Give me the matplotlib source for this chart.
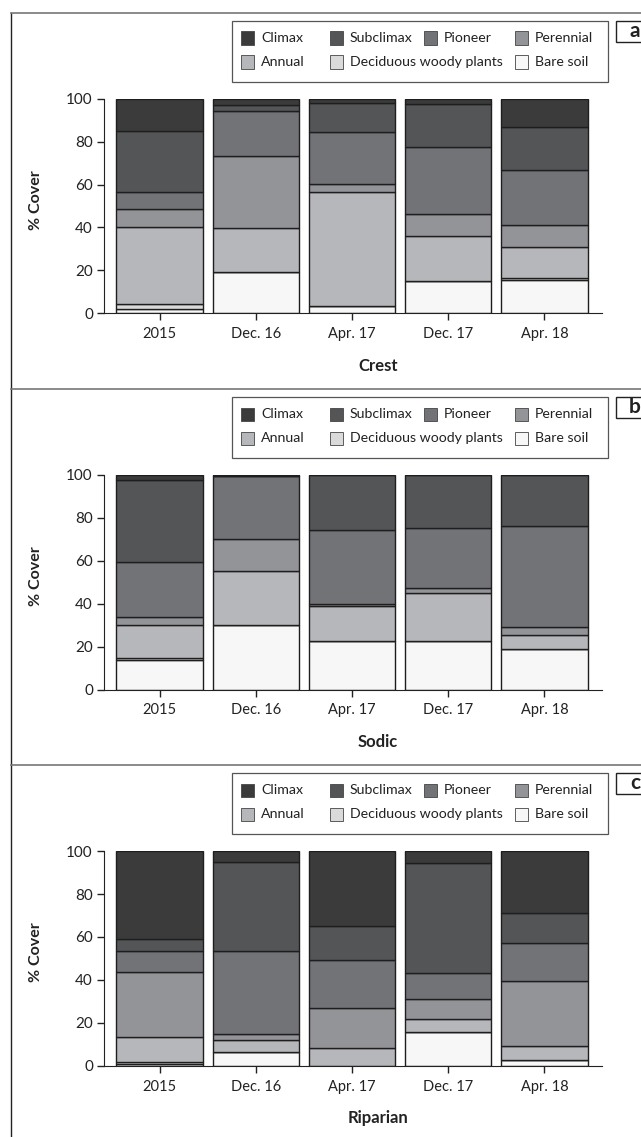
"""
Stacked % cover bars for the three landscape positions (Crest, Sodic, Riparian)
"""
import matplotlib
matplotlib.use("Agg")
import matplotlib.pyplot as plt
from matplotlib.patches import Rectangle
from matplotlib.lines import Line2D

plt.rcParams['font.family'] = ['Lato', 'DejaVu Sans']

# Dates on the x axis
dates = ["2015", "Dec. 16", "Apr. 17", "Dec. 17", "Apr. 18"]

# Categories, bottom of the stack first
categories = ["Bare soil", "Deciduous woody plants", "Annual", "Perennial",
              "Pioneer", "Subclimax", "Climax"]
colours = ["#f7f7f7", "#dadada", "#b6b7ba", "#939498",
           "#727377", "#545557", "#3b3b3b"]

# % cover per category (rows follow `categories`), columns follow `dates`
crest_cover = [
    [2.0, 19.1, 3.5, 15.1, 15.7],     # bare soil
    [2.3, 0.0, 0.0, 0.0, 0.8],        # deciduous woody plants
    [35.7, 20.5, 52.9, 21.1, 14.2],   # annual
    [8.5, 33.9, 4.0, 10.3, 10.3],     # perennial
    [8.0, 20.9, 24.2, 30.8, 25.9],    # pioneer
    [28.5, 2.6, 13.4, 20.0, 19.8],    # subclimax
    [15.0, 3.0, 2.0, 2.7, 13.3],      # climax
]
sodic_cover = [
    [13.8, 30.2, 22.5, 22.5, 18.9],
    [0.8, 0.0, 0.0, 0.0, 0.0],
    [15.6, 25.2, 16.2, 22.5, 6.7],
    [3.4, 14.6, 1.0, 2.5, 3.5],
    [25.9, 29.3, 34.8, 27.9, 47.3],
    [37.9, 0.0, 25.5, 24.6, 23.6],
    [2.6, 0.7, 0.0, 0.0, 0.0],
]
riparian_cover = [
    [0.6, 6.5, 0.0, 15.8, 2.8],
    [0.9, 0.0, 0.0, 0.0, 0.0],
    [12.0, 5.3, 8.4, 6.1, 6.5],
    [30.0, 3.1, 18.4, 9.2, 30.3],
    [10.0, 38.6, 22.5, 12.1, 17.5],
    [5.4, 41.4, 15.7, 51.2, 14.0],
    [41.1, 5.1, 35.0, 5.6, 28.9],
]

sites = ["Crest", "Sodic", "Riparian"]
panel_letters = ["a", "b", "c"]
site_cover = [crest_cover, sodic_cover, riparian_cover]

# legend layout: (category, row, column x in px)
legend_order = [("Climax", 0, 241), ("Subclimax", 0, 330), ("Pioneer", 0, 424),
                ("Perennial", 0, 515), ("Annual", 1, 241),
                ("Deciduous woody plants", 1, 330), ("Bare soil", 1, 515)]

W, H = 641, 1137


def fx(x):
    return x / W


def fy(y):
    return 1 - y / H


def draw_legend(fig, off):
    """Draw the excel style legend box at pixel offset off"""
    fig.patches.append(Rectangle((fx(232), fy(82 + off)), fx(608) - fx(232),
                                 fy(21 + off) - fy(82 + off),
                                 transform=fig.transFigure, facecolor="white",
                                 edgecolor="#555555", linewidth=0.9))
    for name, row, x in legend_order:
        yc = 38 + off + row * 24
        c = colours[categories.index(name)]
        fig.patches.append(Rectangle((fx(x), fy(yc + 6.5)), 13 / W, 13 / H,
                                     transform=fig.transFigure, facecolor=c,
                                     edgecolor="#444444", linewidth=0.6))
        fig.text(fx(x + 20), fy(yc), name, ha="left", va="center",
                 fontsize=10.2, color="#222222")


fig = plt.figure(figsize=(W / 100, H / 100), dpi=100)

# outer frame lines
fig.lines.append(Line2D([fx(11), fx(11)], [fy(12.7), 0], transform=fig.transFigure,
                        color="#222222", linewidth=1.0))

x = range(len(dates))
for i, (site, cover) in enumerate(zip(sites, site_cover)):
    off = i * 376.2

    # separator line on top of each panel
    fig.lines.append(Line2D([fx(11), 1], [fy(12.7 + off)] * 2, transform=fig.transFigure,
                            color="#777777", linewidth=1.2))

    ax = fig.add_axes([fx(104), fy(313.3 + off), fx(602) - fx(104), 214.6 / H])
    bottom = [0.0] * len(dates)
    for vals, c in zip(cover, colours):
        ax.bar(x, vals, bottom=bottom, width=0.9, color=c, edgecolor="#1e1e1e",
               linewidth=1.0)
        bottom = [b + v for b, v in zip(bottom, vals)]

    ax.set_xlim(-0.58, 4.6)
    ax.set_ylim(0, 100)
    ax.set_yticks([0, 20, 40, 60, 80, 100])
    ax.set_xticks(list(x))
    ax.set_xticklabels(dates)
    ax.spines["top"].set_visible(False)
    ax.spines["right"].set_visible(False)
    ax.spines["left"].set_color("#222222")
    ax.spines["bottom"].set_color("#222222")
    ax.tick_params(axis="both", direction="out", length=5, width=1.0,
                   color="#222222", labelsize=10.5, labelcolor="#222222")
    ax.tick_params(axis="x", pad=5)
    ax.tick_params(axis="y", pad=3, labelsize=11)

    fig.text(fx(36), fy(200 + off), "% Cover", rotation=90, ha="center",
             va="center", fontsize=11.5, fontweight="bold", color="#222222")
    fig.text(fx(378), fy(366 + off), site, ha="center", va="center",
             fontsize=12, fontweight="bold", color="#222222")

    draw_legend(fig, off)

    # panel letter box at the right edge
    fig.patches.append(Rectangle((fx(616), fy(42 + off)), fx(650) - fx(616),
                                 fy(21 + off) - fy(42 + off),
                                 transform=fig.transFigure, facecolor="white",
                                 edgecolor="#222222", linewidth=1.0))
    fig.text(fx(635), fy(31 + off), panel_letters[i], ha="center", va="center",
             fontsize=15, fontweight="bold", color="#222222")

plt.savefig("out.png", dpi=100)
